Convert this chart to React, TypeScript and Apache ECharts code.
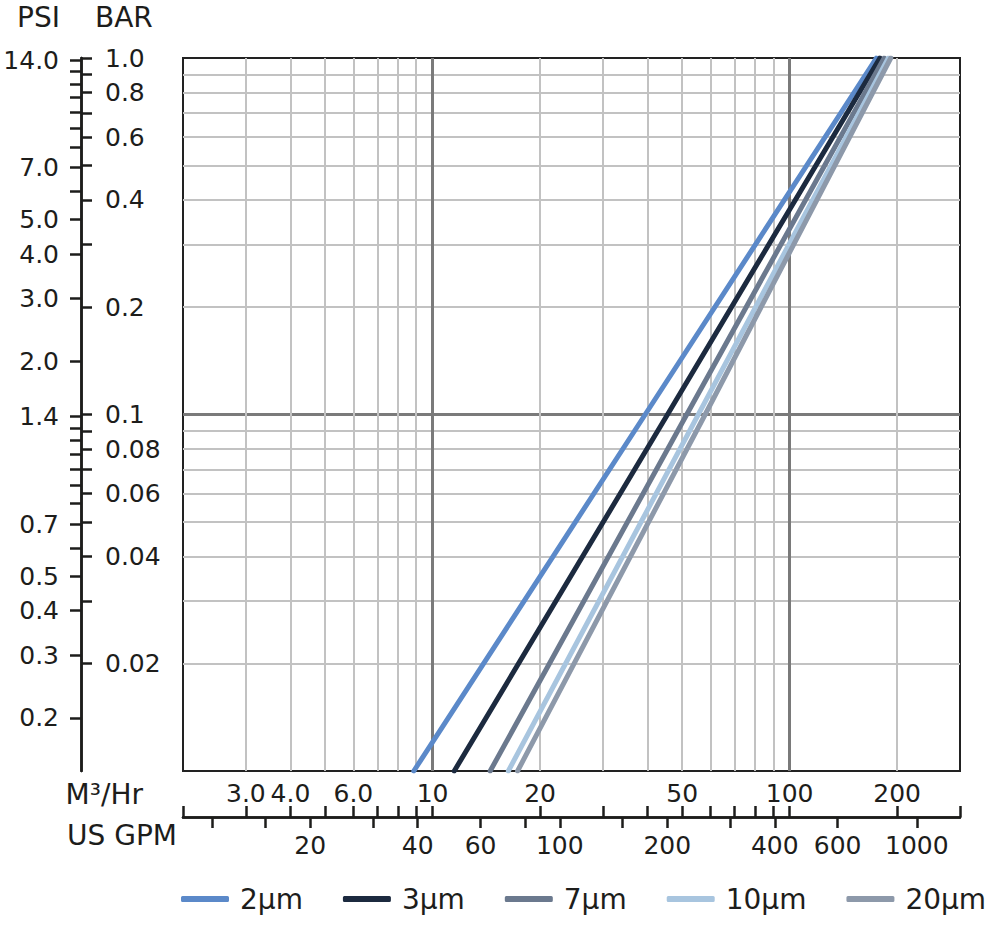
import { useEffect, useRef } from "react"
import * as echarts from "echarts"

// pressure (bar) at which each curve flow is read
const PRESSURE_BAR = [0.01, 0.1, 1]
const SERIES_NAMES = ["2μm", "3μm", "7μm", "10μm", "20μm"]
const FLOW_2UM = [8.86, 39.4, 175]
const FLOW_3UM = [11.5, 45.5, 179]
const FLOW_7UM = [14.5, 51.5, 184]
const FLOW_10UM = [16.3, 55.5, 189]
const FLOW_20UM = [17.3, 58, 192]
const COLORS = ["#5b89c9", "#1c2a3f", "#6b798e", "#a8c5df", "#8d99aa"]

const FLOW_MIN = 2
const FLOW_MAX = 300
const BAR_MIN = 0.01
const BAR_MAX = 1
const PSI_PER_BAR = 14.2
const GPM_PER_M3H = 4.403

// grid lines
const FLOW_GRID = [3, 4, 5, 6, 7, 8, 9, 10, 20, 30, 40, 50, 60, 70, 80, 90, 100, 200]
const FLOW_MAJOR = [10, 100]
const BAR_GRID = [0.02, 0.03, 0.04, 0.05, 0.06, 0.07, 0.08, 0.09, 0.1, 0.2, 0.3, 0.4, 0.5, 0.6, 0.7, 0.8, 0.9]
const BAR_MAJOR = [0.1]

// scale ticks and labels
const M3H_TICKS = [2, 3, 4, 5, 6, 7, 8, 9, 10, 20, 30, 40, 50, 60, 70, 80, 90, 100, 200, 300]
const M3H_LABELS = ["3.0", "4.0", "6.0", "10", "20", "50", "100", "200"]
const GPM_TICKS = [10.6, 15, 20, 30, 40, 60, 80, 100, 150, 200, 300, 400, 600, 1000]
const GPM_LABELS = ["20", "40", "60", "100", "200", "400", "600", "1000"]
const BAR_TICKS = [1, 0.9, 0.8, 0.7, 0.6, 0.5, 0.4, 0.3, 0.2, 0.1, 0.09, 0.08, 0.07, 0.06, 0.05, 0.04, 0.03, 0.02]
const BAR_LABELS = ["1.0", "0.8", "0.6", "0.4", "0.2", "0.1", "0.08", "0.06", "0.04", "0.02"]
const PSI_TICKS = [14, 13, 12, 11, 10, 9, 8, 7, 6, 5, 4, 3, 2, 1.4, 1.3, 1.2, 1.1, 1.0, 0.9, 0.8, 0.7, 0.6, 0.5, 0.4, 0.3, 0.2]
const PSI_LABELS = ["14.0", "7.0", "5.0", "4.0", "3.0", "2.0", "1.4", "0.7", "0.5", "0.4", "0.3", "0.2"]

const FONT = "DejaVu Sans"
const INK = "#1d1d1b"

const labelFor = (labels: string[]) => (v: number) =>
  labels.find((s) => Math.abs(Math.log10(Number(s) / v)) < 1e-6) ?? ""

export default function App() {
  const hostRef = useRef<HTMLDivElement>(null)

  useEffect(() => {
    const el = hostRef.current
    if (!el) return
    const chart = echarts.init(el, undefined, { renderer: "svg" })

    const flows = [FLOW_2UM, FLOW_3UM, FLOW_7UM, FLOW_10UM, FLOW_20UM]

    const gridAxis = (min: number, max: number, values: number[], color: string, width: number) => ({
      type: "log",
      min,
      max,
      axisLine: { show: false, onZero: false },
      axisTick: { show: false, customValues: values },
      axisLabel: { show: false },
      splitLine: { show: true, lineStyle: { color, width } },
    })

    const tickStyle = { color: INK, width: 2.5 }
    const labelStyle = { color: INK, fontSize: 25, fontFamily: FONT }
    const titleStyle = { fontSize: 28, fontFamily: FONT, fill: INK }

    chart.setOption({
      animation: false,
      textStyle: { fontFamily: FONT },
      grid: {
        left: 183,
        right: 40,
        top: 58,
        bottom: 154,
        show: true,
        borderColor: "#222",
        borderWidth: 2,
        backgroundColor: "#fff",
      },
      legend: {
        data: SERIES_NAMES,
        left: 176,
        top: 880,
        icon: "roundRect",
        itemWidth: 48,
        itemHeight: 6,
        itemGap: 40,
        textStyle: { color: INK, fontSize: 28, fontFamily: FONT, padding: [0, 0, 0, 6] },
      },
      xAxis: [
        gridAxis(FLOW_MIN, FLOW_MAX, FLOW_GRID, "#c2c2c2", 2),
        gridAxis(FLOW_MIN, FLOW_MAX, FLOW_MAJOR, "#7a7a7a", 3),
        {
          type: "log",
          min: FLOW_MIN,
          max: FLOW_MAX,
          position: "bottom",
          offset: 46,
          axisLine: { show: true, onZero: false, lineStyle: tickStyle },
          axisTick: { show: true, inside: true, length: 11, lineStyle: tickStyle, customValues: M3H_TICKS },
          axisLabel: {
            show: true,
            inside: true,
            margin: 11,
            customValues: M3H_LABELS.map(Number),
            formatter: labelFor(M3H_LABELS),
            ...labelStyle,
          },
          splitLine: { show: false },
        },
        {
          type: "log",
          min: FLOW_MIN * GPM_PER_M3H,
          max: FLOW_MAX * GPM_PER_M3H,
          position: "bottom",
          offset: 46,
          axisLine: { show: true, onZero: false, lineStyle: tickStyle },
          axisTick: { show: true, length: 11, lineStyle: tickStyle, customValues: GPM_TICKS },
          axisLabel: {
            show: true,
            margin: 16,
            customValues: GPM_LABELS.map(Number),
            formatter: labelFor(GPM_LABELS),
            ...labelStyle,
          },
          splitLine: { show: false },
        },
      ],
      yAxis: [
        gridAxis(BAR_MIN, BAR_MAX, BAR_GRID, "#c2c2c2", 2),
        gridAxis(BAR_MIN, BAR_MAX, BAR_MAJOR, "#7a7a7a", 3),
        {
          type: "log",
          min: BAR_MIN,
          max: BAR_MAX,
          position: "left",
          offset: 102,
          axisLine: { show: true, onZero: false, lineStyle: tickStyle },
          axisTick: { show: true, inside: true, length: 11, lineStyle: tickStyle, customValues: BAR_TICKS },
          axisLabel: {
            show: true,
            inside: true,
            margin: 24,
            customValues: BAR_LABELS.map(Number),
            formatter: labelFor(BAR_LABELS),
            ...labelStyle,
          },
          splitLine: { show: false },
        },
        {
          type: "log",
          min: BAR_MIN * PSI_PER_BAR,
          max: BAR_MAX * PSI_PER_BAR,
          position: "left",
          offset: 102,
          axisLine: { show: true, onZero: false, lineStyle: tickStyle },
          axisTick: { show: true, length: 11, lineStyle: tickStyle, customValues: PSI_TICKS },
          axisLabel: {
            show: true,
            margin: 22,
            customValues: PSI_LABELS.map(Number),
            formatter: labelFor(PSI_LABELS),
            ...labelStyle,
          },
          splitLine: { show: false },
        },
      ],
      graphic: [
        { type: "text", left: 17, top: 3, style: { text: "PSI", ...titleStyle } },
        { type: "text", left: 95, top: 3, style: { text: "BAR", ...titleStyle } },
        { type: "text", right: 1000 - 143, top: 780, style: { text: "M³/Hr", ...titleStyle } },
        { type: "text", right: 1000 - 177, top: 821, style: { text: "US GPM", ...titleStyle } },
      ],
      series: SERIES_NAMES.map((name, i) => ({
        name,
        type: "line",
        xAxisIndex: 0,
        yAxisIndex: 0,
        showSymbol: false,
        symbol: "none",
        color: COLORS[i],
        lineStyle: { color: COLORS[i], width: 5, cap: "round" },
        data: PRESSURE_BAR.map((p, j) => [flows[i][j], p]),
        z: 5,
      })),
    })

    return () => chart.dispose()
  }, [])

  return (
    <div
      ref={hostRef}
      style={{ position: "absolute", left: 0, top: 0, width: 1000, height: 925, background: "#fff" }}
    />
  )
}
